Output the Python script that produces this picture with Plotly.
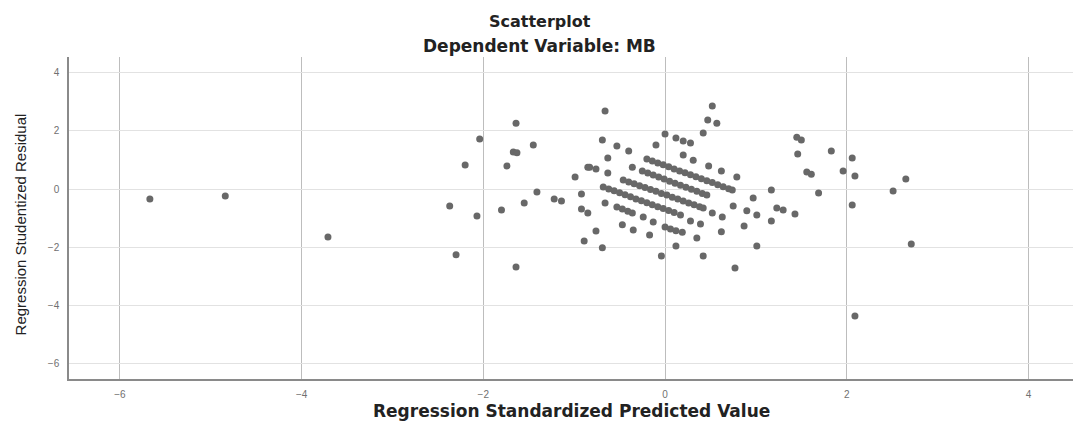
import plotly.graph_objects as go

# Scattered points (predicted value, studentized residual)
x_scatter = [-5.67, -4.84, -3.71,
             -1.64, -2.04, -1.45, -1.67, -1.63, -2.20, -1.74, -0.85, -0.99, -1.41, -0.92, -1.22, -1.14,
             -2.37, -1.55, -1.80, -2.07, -0.92, -0.85, -0.89, -2.30, -1.64,
             -0.66, 0.52, 0.47, 0.57, 0.00, 0.42, 0.12, 0.20, 0.28, -0.69, -0.53, -0.40, -0.10, -0.63,
             0.20, 0.31, -0.36, -0.83, -0.76, -0.63, 0.48, 0.62, 0.79,
             -0.66, -0.47, -0.35, -0.17, 0.28, 0.39, 0.52, 0.63, 0.75, 0.62, 0.35, 0.12, -0.76, -0.69,
             -0.04, 0.42, 0.77,
             1.45, 1.50, 1.46, 1.83, 2.06, 1.96, 2.09, 1.56, 1.61, 1.69, 2.06, 2.65, 2.51, 2.71, 2.09,
             1.17, 0.97, 0.90, 1.01, 1.23, 1.30, 1.43, 1.17, 0.87, 1.01]
y_scatter = [-0.34, -0.24, -1.65,
             2.26, 1.72, 1.51, 1.27, 1.24, 0.82, 0.79, 0.75, 0.41, -0.10, -0.17, -0.34, -0.41,
             -0.58, -0.48, -0.72, -0.93, -0.69, -0.82, -1.78, -2.26, -2.68,
             2.68, 2.85, 2.37, 2.26, 1.89, 1.92, 1.75, 1.65, 1.58, 1.68, 1.48, 1.30, 1.51, 1.06,
             1.17, 0.99, 0.75, 0.75, 0.69, 0.55, 0.79, 0.62, 0.41,
             -0.48, -1.23, -1.41, -1.58, -1.10, -1.20, -0.82, -0.96, -0.58, -1.47, -1.68, -1.96, -1.44, -2.02,
             -2.30, -2.30, -2.71,
             1.78, 1.68, 1.20, 1.30, 1.06, 0.62, 0.45, 0.58, 0.51, -0.14, -0.55, 0.34, -0.07, -1.89, -4.36,
             -0.03, -0.31, -0.75, -0.89, -0.65, -0.72, -0.86, -1.10, -1.27, -1.96]

# Dense diagonal bands of overlapping cases
x_band = [-0.20, -0.14, -0.08, -0.02, 0.04, 0.10, 0.16, 0.22, 0.28, 0.34, 0.40, 0.46, 0.52, 0.58, 0.64, 0.70, 0.74,
          -0.25, -0.19, -0.13, -0.07, -0.01, 0.05, 0.11, 0.17, 0.23, 0.29, 0.35, 0.41, 0.46,
          -0.46, -0.40, -0.34, -0.28, -0.22, -0.16, -0.10, -0.04, 0.02, 0.08, 0.14, 0.20, 0.26, 0.32, 0.38, 0.42,
          -0.68, -0.62, -0.56, -0.50, -0.44, -0.38, -0.32, -0.26, -0.20, -0.14, -0.08, -0.02, 0.04, 0.10, 0.17,
          -0.53, -0.47, -0.41, -0.36, -0.24, -0.13, 0.00, 0.06, 0.12, 0.19]
y_band = [1.03, 0.96, 0.89, 0.83, 0.76, 0.69, 0.62, 0.56, 0.49, 0.42, 0.35, 0.28, 0.22, 0.15, 0.08, 0.01, -0.03,
          0.62, 0.55, 0.48, 0.41, 0.34, 0.27, 0.20, 0.13, 0.06, -0.01, -0.08, -0.15, -0.21,
          0.31, 0.24, 0.18, 0.11, 0.05, -0.02, -0.08, -0.15, -0.21, -0.28, -0.34, -0.41, -0.48, -0.54, -0.61, -0.65,
          0.07, 0.00, -0.06, -0.13, -0.20, -0.27, -0.34, -0.40, -0.47, -0.54, -0.61, -0.67, -0.74, -0.81, -0.89,
          -0.62, -0.69, -0.76, -0.82, -0.96, -1.13, -1.30, -1.37, -1.43, -1.48]

x_ticks = [-6, -4, -2, 0, 2, 4]
y_ticks = [-6, -4, -2, 0, 2, 4]

title_main = "Scatterplot"
title_sub = "Dependent Variable: MB"
x_title = "Regression Standardized Predicted Value"
y_title = "Regression Studentized Residual"

marker = dict(color="#686868", size=7, symbol="circle", line=dict(width=0))

fig = go.Figure()
fig.add_trace(go.Scatter(x=x_scatter + x_band, y=y_scatter + y_band, mode="markers",
                         marker=marker, showlegend=False, hoverinfo="x+y"))

fig.update_layout(
    width=1073, height=424,
    margin=dict(l=69, r=0, t=57, b=45),
    paper_bgcolor="white", plot_bgcolor="white",
    font=dict(family="Liberation Sans, Arial, sans-serif", color="#333333"),
    xaxis=dict(range=[-6.56, 4.49], tickvals=x_ticks, showgrid=True, gridcolor="#bdbdbd", gridwidth=1,
               zeroline=False, showline=True, linecolor="#8a8a8a", linewidth=1.5, mirror=False,
               ticks="", tickfont=dict(size=10, color="#707070"), ticklabelstandoff=5),
    yaxis=dict(range=[-6.52, 4.53], tickvals=y_ticks, showgrid=True, gridcolor="#e2e2e2", gridwidth=1,
               zeroline=False, showline=True, linecolor="#8a8a8a", linewidth=1.5, mirror=False,
               ticks="", tickfont=dict(size=10, color="#707070"), ticklabelstandoff=6),
    annotations=[
        dict(text=title_main, xref="paper", yref="paper", x=0.469, y=1.109, xanchor="center", yanchor="middle",
             showarrow=False, font=dict(family="DejaVu Sans", size=16, color="#222222", weight="bold")),
        dict(text=title_sub, xref="paper", yref="paper", x=0.469, y=1.034, xanchor="center", yanchor="middle",
             showarrow=False, font=dict(family="DejaVu Sans", size=17, color="#222222", weight="bold")),
        dict(text=x_title, xref="paper", yref="paper", x=0.5, y=0, yshift=-32, xanchor="center", yanchor="middle",
             showarrow=False, font=dict(family="DejaVu Sans", size=17, color="#222222", weight="bold")),
        dict(text=y_title, xref="paper", yref="paper", x=0, xshift=-49, y=0.48, xanchor="center", yanchor="middle",
             textangle=-90, showarrow=False,
             font=dict(family="Liberation Sans, Arial, sans-serif", size=15, color="#222222")),
    ],
)

# Remove the default page margin so the figure fills the 1073x424 window exactly
fig.write_html("out.html",
               config={"displayModeBar": False},
               post_script="document.body.style.margin='0';document.body.style.overflow='hidden';")
